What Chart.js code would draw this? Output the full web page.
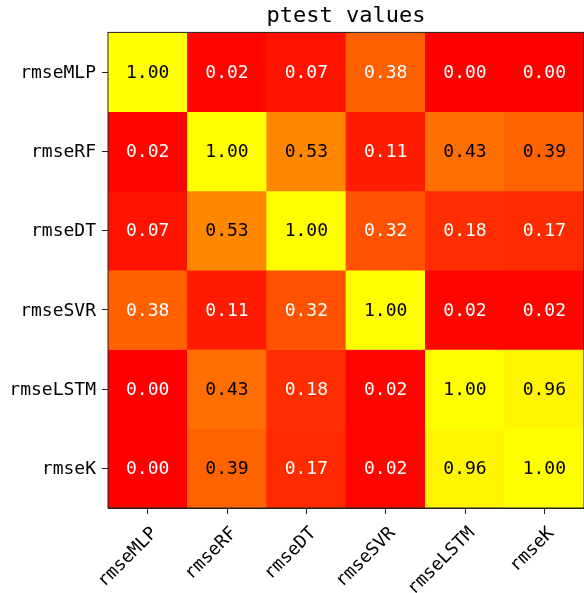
<!DOCTYPE html>
<html>
<head>
<meta charset="utf-8">
<script src="https://cdn.jsdelivr.net/npm/chart.js@4/dist/chart.umd.min.js"></script>
<style>
  html, body { margin: 0; padding: 0; background: #fff; }
</style>
</head>
<body>
<canvas id="heat" width="584" height="593"></canvas>
<script>
const rowLabels = ['rmseMLP', 'rmseRF', 'rmseDT', 'rmseSVR', 'rmseLSTM', 'rmseK'];
const colLabels = ['rmseMLP', 'rmseRF', 'rmseDT', 'rmseSVR', 'rmseLSTM', 'rmseK'];

const rowMLP  = [1.00, 0.02, 0.07, 0.38, 0.00, 0.00];
const rowRF   = [0.02, 1.00, 0.53, 0.11, 0.43, 0.39];
const rowDT   = [0.07, 0.53, 1.00, 0.32, 0.18, 0.17];
const rowSVR  = [0.38, 0.11, 0.32, 1.00, 0.02, 0.02];
const rowLSTM = [0.00, 0.43, 0.18, 0.02, 1.00, 0.96];
const rowK    = [0.00, 0.39, 0.17, 0.02, 0.96, 1.00];
const pvals = [rowMLP, rowRF, rowDT, rowSVR, rowLSTM, rowK];

const FONT = '"DejaVu Sans Mono", monospace';

// matplotlib "autumn": red -> yellow
const autumn = v => `rgb(255, ${Math.round(255 * v)}, 0)`;
const textColor = v => v > 0.385 ? '#000' : '#fff';

const cellText = {
    id: 'cellText',
    afterDatasetsDraw(chart) {
        const ctx = chart.ctx;
        ctx.save();
        ctx.font = '18px ' + FONT;
        ctx.textAlign = 'center';
        ctx.textBaseline = 'middle';
        chart.data.datasets.forEach((ds, r) => {
            chart.getDatasetMeta(r).data.forEach((bar, c) => {
                const v = pvals[r][c];
                ctx.fillStyle = textColor(v);
                ctx.fillText(v.toFixed(2), bar.x, (bar.y + bar.base) / 2 + 1);
            });
        });
        ctx.restore();
    }
};

const frame = {
    id: 'frame',
    afterDraw(chart) {
        const { ctx, chartArea: a } = chart;
        ctx.save();
        ctx.strokeStyle = '#222';
        ctx.lineWidth = 1;
        ctx.strokeRect(a.left, a.top, a.right - a.left, a.bottom - a.top);
        ctx.restore();
    }
};

new Chart(document.getElementById('heat'), {
    type: 'bar',
    data: {
        labels: colLabels,
        datasets: pvals.map((row, r) => ({
            label: rowLabels[r],
            data: row.map(() => 1),
            backgroundColor: row.map(autumn),
            borderWidth: 0,
            barPercentage: 1,
            categoryPercentage: 1
        }))
    },
    options: {
        responsive: false,
        animation: false,
        layout: { padding: 0 },
        plugins: {
            legend: { display: false },
            tooltip: { enabled: false },
            title: {
                display: true,
                text: 'ptest values',
                fullSize: false,
                color: '#000',
                font: { family: FONT, size: 22, weight: 'normal', lineHeight: 1.2 },
                padding: { top: 3, bottom: 3 }
            }
        },
        scales: {
            x: {
                stacked: true,
                offset: true,
                grid: { offset: false, drawOnChartArea: false, tickLength: 6, color: '#222' },
                border: { display: true, color: '#222' },
                ticks: {
                    color: '#000',
                    font: { family: FONT, size: 18 },
                    maxRotation: 45,
                    minRotation: 45,
                    autoSkip: false,
                    padding: 9,
                    labelOffset: 7
                },
                afterFit: s => { s.height = 85; }
            },
            y: {
                stacked: true,
                reverse: true,
                min: 0,
                max: 6,
                afterBuildTicks: s => { s.ticks = rowLabels.map((_, i) => ({ value: i + 0.5 })); },
                grid: { drawOnChartArea: false, tickLength: 6, color: '#222' },
                border: { display: true, color: '#222' },
                ticks: {
                    color: '#000',
                    font: { family: FONT, size: 18 },
                    autoSkip: false,
                    padding: 6,
                    labelOffset: 1,
                    callback: v => rowLabels[Math.floor(v)]
                },
                afterFit: s => { s.width = 108; }
            }
        }
    },
    plugins: [cellText, frame]
});
</script>
</body>
</html>
